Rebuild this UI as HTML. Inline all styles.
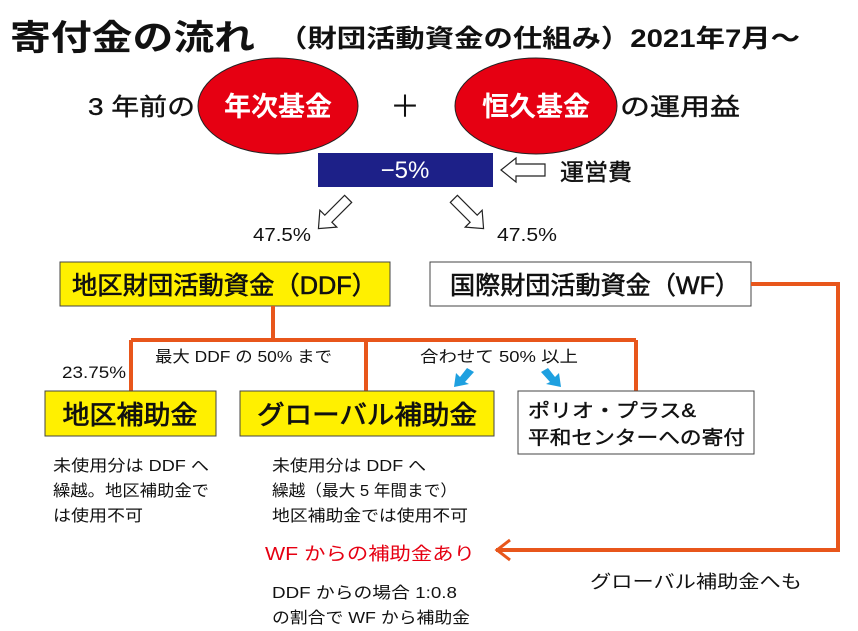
<!DOCTYPE html>
<html><head><meta charset="utf-8"><style>
html,body{margin:0;padding:0;background:#fff;}
svg{display:block;}
text{font-family:"Liberation Sans","Noto Sans CJK JP",sans-serif;fill:#111;}
</style></head><body>
<svg width="858" height="631" viewBox="0 0 858 631" xmlns="http://www.w3.org/2000/svg">
<text x="10" y="50" font-size="35" font-weight="bold" textLength="245" lengthAdjust="spacingAndGlyphs">寄付金の流れ</text>
<text x="278" y="47" font-size="25" font-weight="bold" textLength="522" lengthAdjust="spacingAndGlyphs">（財団活動資金の仕組み）2021年7月〜</text>

<text x="88" y="115" font-size="24" textLength="107" lengthAdjust="spacingAndGlyphs" stroke="#111" stroke-width="0.4">3 年前の</text>
<ellipse cx="278" cy="106" rx="80" ry="48" fill="#e60012" stroke="#222" stroke-width="1"/>
<text x="278" y="116" font-size="27" font-weight="bold" text-anchor="middle" style="fill:#fff">年次基金</text>
<text x="405" y="117" font-size="30" text-anchor="middle">＋</text>
<ellipse cx="536" cy="106" rx="81" ry="48" fill="#e60012" stroke="#222" stroke-width="1"/>
<text x="536" y="116" font-size="27" font-weight="bold" text-anchor="middle" style="fill:#fff">恒久基金</text>
<text x="620" y="115" font-size="24" textLength="120" lengthAdjust="spacingAndGlyphs" stroke="#111" stroke-width="0.4">の運用益</text>

<rect x="318" y="153" width="175" height="34" fill="#1d2088"/>
<text x="405" y="178" font-size="24" text-anchor="middle" style="fill:#fff">−5%</text>
<polygon points="501,170 516,158 516,164 545,164 545,176 516,176 516,182" fill="#fff" stroke="#222" stroke-width="1.2"/>
<text x="560" y="180" font-size="23" textLength="72" lengthAdjust="spacingAndGlyphs" stroke="#111" stroke-width="0.4">運営費</text>

<g transform="translate(334,213) rotate(135)">
<polygon points="-20,-5 8,-5 8,-12 22,0 8,12 8,5 -20,5" fill="#fff" stroke="#222" stroke-width="1.2"/></g>
<g transform="translate(468,213) rotate(45)">
<polygon points="-20,-5 8,-5 8,-12 22,0 8,12 8,5 -20,5" fill="#fff" stroke="#222" stroke-width="1.2"/></g>
<text x="253" y="241" font-size="18" textLength="58" lengthAdjust="spacingAndGlyphs">47.5%</text>
<text x="497" y="241" font-size="18" textLength="60" lengthAdjust="spacingAndGlyphs">47.5%</text>

<rect x="60" y="262" width="330" height="44" fill="#fff000" stroke="#444" stroke-width="1"/>
<text x="72" y="294" font-size="25" textLength="305" lengthAdjust="spacingAndGlyphs" stroke="#111" stroke-width="0.6">地区財団活動資金（DDF）</text>
<rect x="430" y="262" width="321" height="44" fill="#fff" stroke="#444" stroke-width="1"/>
<text x="450" y="294" font-size="25" textLength="290" lengthAdjust="spacingAndGlyphs" stroke="#111" stroke-width="0.6">国際財団活動資金（WF）</text>

<g stroke="#e8561b" stroke-width="4" fill="none">
<polyline points="751,284 838,284 838,550 496,550"/>
<polyline points="510,540 497,550 510,560" stroke-width="3"/>
<line x1="273" y1="306" x2="273" y2="340"/>
<line x1="131" y1="340" x2="636" y2="340"/>
<line x1="131" y1="340" x2="131" y2="391"/>
<line x1="366" y1="340" x2="366" y2="391"/>
<line x1="636" y1="340" x2="636" y2="391"/>
</g>

<text x="155" y="362" font-size="16" textLength="177" lengthAdjust="spacingAndGlyphs">最大 DDF の 50% まで</text>
<text x="62" y="378" font-size="17" textLength="64" lengthAdjust="spacingAndGlyphs">23.75%</text>
<text x="420" y="362" font-size="16" textLength="158" lengthAdjust="spacingAndGlyphs">合わせて 50% 以上</text>
<g fill="#1ea0e0">
<polygon points="467,368 474,372 465,382 469,384 454,387 456,373 460,377"/>
<polygon points="548,368 541,372 550,382 546,384 561,387 559,373 555,377"/>
</g>

<rect x="45" y="391" width="171" height="45" fill="#fff000" stroke="#444" stroke-width="1"/>
<text x="130" y="424" font-size="26" text-anchor="middle" textLength="135" lengthAdjust="spacingAndGlyphs" stroke="#111" stroke-width="0.7">地区補助金</text>
<rect x="240" y="391" width="254" height="45" fill="#fff000" stroke="#444" stroke-width="1"/>
<text x="367" y="424" font-size="26" text-anchor="middle" textLength="220" lengthAdjust="spacingAndGlyphs" stroke="#111" stroke-width="0.7">グローバル補助金</text>
<rect x="518" y="391" width="236" height="63" fill="#fff" stroke="#444" stroke-width="1"/>
<text x="528" y="417" font-size="19" textLength="168" lengthAdjust="spacingAndGlyphs" stroke="#111" stroke-width="0.4">ポリオ・プラス&amp;</text>
<text x="528" y="444" font-size="19" textLength="217" lengthAdjust="spacingAndGlyphs" stroke="#111" stroke-width="0.4">平和センターへの寄付</text>

<g font-size="16">
<text x="53" y="471" textLength="156" lengthAdjust="spacingAndGlyphs">未使用分は DDF へ</text>
<text x="53" y="496" textLength="156" lengthAdjust="spacingAndGlyphs">繰越。地区補助金で</text>
<text x="53" y="521" textLength="90" lengthAdjust="spacingAndGlyphs">は使用不可</text>
<text x="272" y="471" textLength="154" lengthAdjust="spacingAndGlyphs">未使用分は DDF へ</text>
<text x="272" y="496" textLength="185" lengthAdjust="spacingAndGlyphs">繰越（最大 5 年間まで）</text>
<text x="272" y="521" textLength="196" lengthAdjust="spacingAndGlyphs">地区補助金では使用不可</text>
<text x="272" y="598" textLength="185" lengthAdjust="spacingAndGlyphs">DDF からの場合 1:0.8</text>
<text x="272" y="623" textLength="198" lengthAdjust="spacingAndGlyphs">の割合で WF から補助金</text>
</g>
<text x="265" y="560" font-size="18" textLength="210" lengthAdjust="spacingAndGlyphs" style="fill:#e60012">WF からの補助金あり</text>
<text x="590" y="588" font-size="18" textLength="212" lengthAdjust="spacingAndGlyphs">グローバル補助金へも</text>
</svg>
</body></html>
